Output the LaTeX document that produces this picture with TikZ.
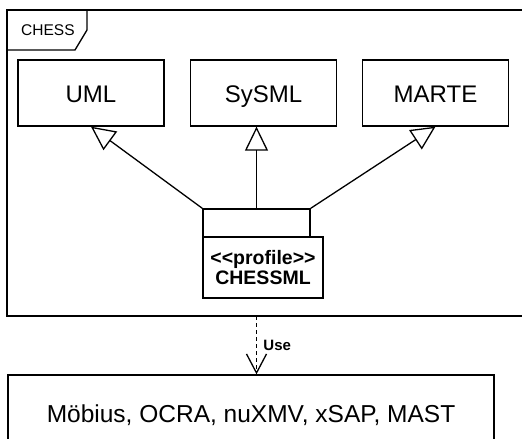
\documentclass[tikz,border=0pt]{standalone}
\usepackage{fontspec}
\setmainfont{Liberation Sans}
\usetikzlibrary{
    arrows.meta,
    positioning,
    calc
}
\tikzset{
    % Boxes
    box/.style={draw,line width=1.3pt,inner sep=0pt,minimum height=66pt,minimum width=146pt,
                text height=19pt,text depth=0pt,font=\fontsize{24}{28}\selectfont},
    frame line/.style={line width=1.3pt},
    %
    % Arrows
    gen tip/.tip={Triangle[open,length=24pt,width=23pt,line width=1.3pt]},
    use tip/.tip={Straight Barb[length=19pt,width=20pt,line width=1.3pt]},
    gen/.style={-{gen tip},line width=1.3pt},
    use/.style={-{use tip},line width=1.3pt,dash pattern=on 4pt off 3pt}
}
\tikzstyle{every node}=[font=\fontsize{15}{18}\selectfont]

\begin{document}
\begin{tikzpicture}[x=1pt,y=-1pt]
        \clip (0,0) rectangle (522,439);
        \fill[white] (0,0) rectangle (522,439);

        % CHESS frame with its tab
        \draw[frame line] (7,10) rectangle (540,316);
        \draw[frame line] (87,10) -- (87,30) -- (75,50) -- (7,50);
        \node[anchor=west,inner sep=0pt,font=\fontsize{15.5}{18}\selectfont] (chesslabel) at (21,30) {CHESS};

        \node[box] (uml) at (91,93) {UML};
        \node[box] (sysml) at (263.5,93) {SySML};
        \node[box] (marte) at (435.5,93) {MARTE};

        % profile package
        \node[draw,line width=1.3pt,minimum width=107pt,minimum height=28pt,inner sep=0pt] (tab) at (256.5,223) {};
        \node[draw,line width=1.3pt,minimum width=120pt,minimum height=61pt,inner sep=0pt,align=center,
              font=\fontsize{19.5}{19.5}\selectfont\bfseries] (chessml) at (263,267.5) {<\kern0pt<profile>\kern0pt>\\CHESSML};

        \draw[gen] (tab.north west) -- (uml.south);
        \draw[gen] (tab.north) -- (tab.north |- sysml.south);
        \draw[gen] (tab.north east) -- (marte.south);

        \node[draw,line width=1.3pt,minimum width=486pt,minimum height=80pt,inner sep=0pt,
              font=\fontsize{24.5}{28}\selectfont] (tools) at (251,415) {Möbius, OCRA, nuXMV, xSAP, MAST};

        \coordinate (framebottom) at (256.5,316);
        \draw[use] (framebottom) -- (framebottom |- tools.north) node[midway,right=3pt,font=\fontsize{15}{18}\selectfont\bfseries] {Use};
    \end{tikzpicture}
\end{document}
